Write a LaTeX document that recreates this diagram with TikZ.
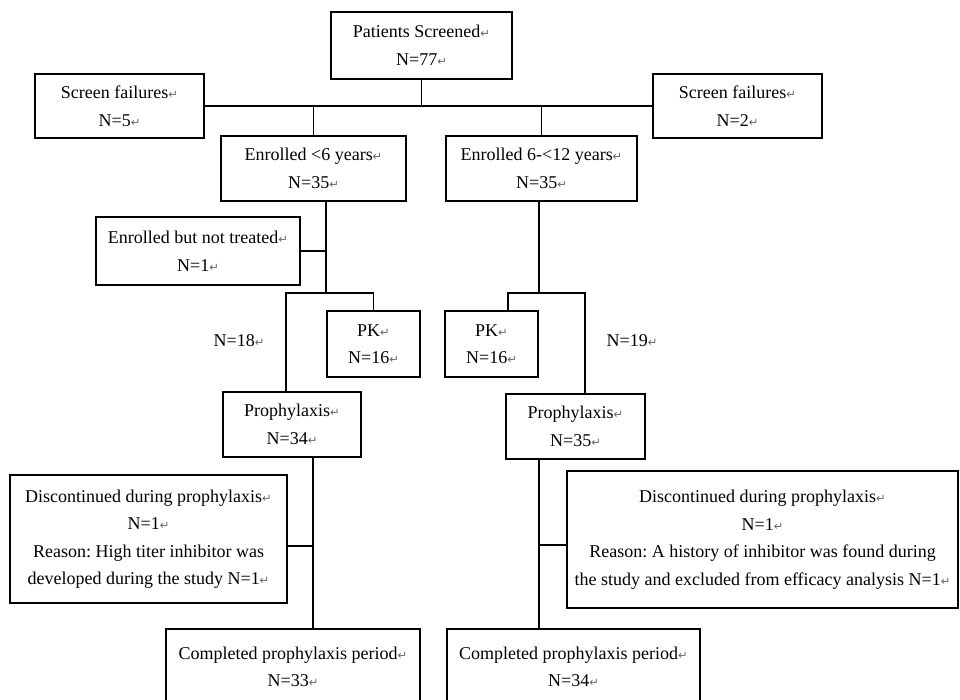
\documentclass[tikz,border=0pt]{standalone}
\usepackage{fontspec}
\setmainfont{Liberation Serif}
\newfontfamily\dejavu{DejaVu Sans}
\newcommand\ret{{\color{black!60}\fontsize{11.5}{11.5}\dejavu ↵}}
\frenchspacing
\tikzset{
  pbox/.style={draw, line width=1.5pt, inner sep=0pt, align=center,
    font=\fontsize{18}{27.5}\selectfont},
  plabel/.style={inner sep=0pt, font=\fontsize{18}{27.5}\selectfont},
  conn/.style={line width=1.5pt}
}
\begin{document}
\begin{tikzpicture}[x=1pt,y=-1pt]
\clip (0,0) rectangle (960,699);
\fill[white] (0,0) rectangle (960,699);
% boxes
\node[pbox, minimum width=181, minimum height=67] (ps) at (421.5,45.5) {Patients Screened\ret\\N=77\ret};
\node[pbox, minimum width=169, minimum height=64] (sf1) at (119.5,106) {Screen failures\ret\\N=5\ret};
\node[pbox, minimum width=169, minimum height=64] (sf2) at (737.5,106) {Screen failures\ret\\N=2\ret};
\node[pbox, minimum width=185, minimum height=65] (en1) at (313.5,168.5) {Enrolled <6 years\ret\\N=35\ret};
\node[pbox, minimum width=191, minimum height=65] (en2) at (541.5,168.5) {Enrolled 6-<12 years\ret\\N=35\ret};
\node[pbox, minimum width=204, minimum height=68] (ent) at (198,251) {Enrolled but not treated\ret\\N=1\ret};
\node[pbox, minimum width=93, minimum height=66] (pk1) at (373.5,344) {PK\ret\\N=16\ret};
\node[pbox, minimum width=93, minimum height=66] (pk2) at (491.5,344) {PK\ret\\N=16\ret};
\node[plabel] (n18) at (239,341) {N=18\ret};
\node[plabel] (n19) at (632,341) {N=19\ret};
\node[pbox, minimum width=138, minimum height=65] (pr1) at (292,424.5) {Prophylaxis\ret\\N=34\ret};
\node[pbox, minimum width=139, minimum height=65] (pr2) at (575.5,426.5) {Prophylaxis\ret\\N=35\ret};
\node[pbox, minimum width=277, minimum height=128] (dc1) at (148.5,539) {Discontinued during prophylaxis\ret\\N=1\ret\\Reason: High titer inhibitor was\\developed during the study N=1\ret};
\node[pbox, minimum width=391, minimum height=137] (dc2) at (762.5,539.5) {Discontinued during prophylaxis\ret\\N=1\ret\\Reason: A history of inhibitor was found during\\the study and excluded from efficacy analysis N=1\ret};
\node[pbox, minimum width=254, minimum height=76] (cp1) at (293,667) {Completed prophylaxis period\ret\\N=33\ret};
\node[pbox, minimum width=253, minimum height=76] (cp2) at (573.5,667) {Completed prophylaxis period\ret\\N=34\ret};
% junction coordinates
\coordinate (j1) at (ps.south |- sf1.east);
\coordinate (j2) at (326,293);
\coordinate (h1a) at (286,293);
\coordinate (j3) at (539,293);
\coordinate (h2a) at (508,293);
\coordinate (h2b) at (585,293);
\coordinate (j4) at (313,546);
\coordinate (j5) at (539,545);
% connectors
\draw[conn] (ps.south) -- (j1);
\draw[conn] (sf1.east) -- (sf2.west);
\draw[conn] (en1.north |- j1) -- (en1.north);
\draw[conn] (en2.north |- j1) -- (en2.north);
\draw[conn] (j2 |- en1.south) -- (j2);
\draw[conn] (j2 |- ent.east) -- (ent.east);
\draw[conn] (h1a |- pr1.north) -- (h1a) -- (pk1.north |- h1a) -- (pk1.north);
\draw[conn] (j3 |- en2.south) -- (j3);
\draw[conn] (h2a |- pk2.north) -- (h2a) -- (h2b) -- (h2b |- pr2.north);
\draw[conn] (j4 |- pr1.south) -- (j4 |- cp1.north);
\draw[conn] (j4) -- (j4 -| dc1.east);
\draw[conn] (j5 |- pr2.south) -- (j5 |- cp2.north);
\draw[conn] (j5) -- (j5 -| dc2.west);
\end{tikzpicture}
\end{document}
